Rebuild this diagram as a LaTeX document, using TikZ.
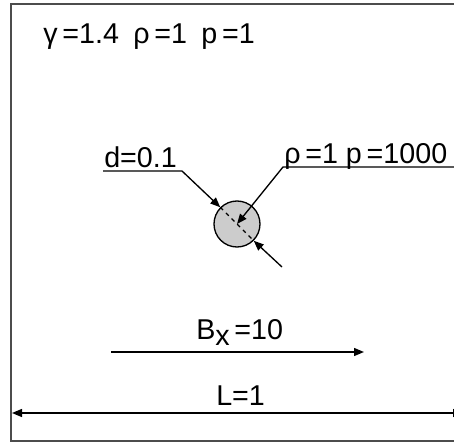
\documentclass[tikz,border=0pt]{standalone}
\usepackage{fontspec}
\setmainfont{Liberation Sans}
\usetikzlibrary{arrows.meta, positioning}

\begin{document}
\begin{tikzpicture}[
  x=0.75pt, y=-0.75pt,
  label/.style={inner sep=0pt, anchor=base west, font=\fontsize{21.5}{25}\selectfont},
  arrow/.style={-{Triangle[length=7.5pt, width=6pt]}, line width=1pt},
  frame/.style={draw=black!70, line width=1.2pt}
]
\useasboundingbox (0,0) rectangle (454,443);

% Domain frame
\draw[frame] (11,4) rectangle (470,441);

% Text nodes
\node[label] (params) at (43,43) {γ\,=1.4\hspace{0.5em}ρ\,=1\hspace{0.5em}p\,=1};
\node[label] (dlabel) at (104,167) {d=0.1};
\node[label] (rholabel) at (284,163) {ρ\,=1 p\,=1000};
\node[label] (bxlabel) at (196,339) {B\raisebox{-0.45ex}{x}\,=10};
\node[label] (Llabel) at (216,405) {L=1};

% Droplet
\node[circle, draw, line width=1pt, fill=black!20, minimum size=34.5pt, inner sep=0pt] (drop) at (237,224) {};
\draw[dashed, line width=0.8pt] (drop.135) -- (drop.-45);

% Leader points
\coordinate (dstart) at (103,171);
\coordinate (dknee) at (182,171);
\coordinate (rhoend) at (458,167);
\coordinate (rhoknee) at (283,167);
\coordinate (lowstart) at (282,267);
\coordinate (bxstart) at (111,352);
\coordinate (bxend) at (364,352);
\coordinate (Lleft) at (12,413);
\coordinate (Lright) at (463,413);

% Arrows to droplet
\draw[arrow] (dstart) -- (dknee) -- (drop.135);
\draw[arrow] (rhoend) -- (rhoknee) -- (drop.center);
\draw[arrow] (lowstart) -- (drop.-45);

% Flow and length arrows
\draw[arrow] (bxstart) -- (bxend);
\draw[arrow, {Triangle[length=7.5pt, width=6pt]}-{Triangle[length=7.5pt, width=6pt]}] (Lleft) -- (Lright);

\end{tikzpicture}
\end{document}
